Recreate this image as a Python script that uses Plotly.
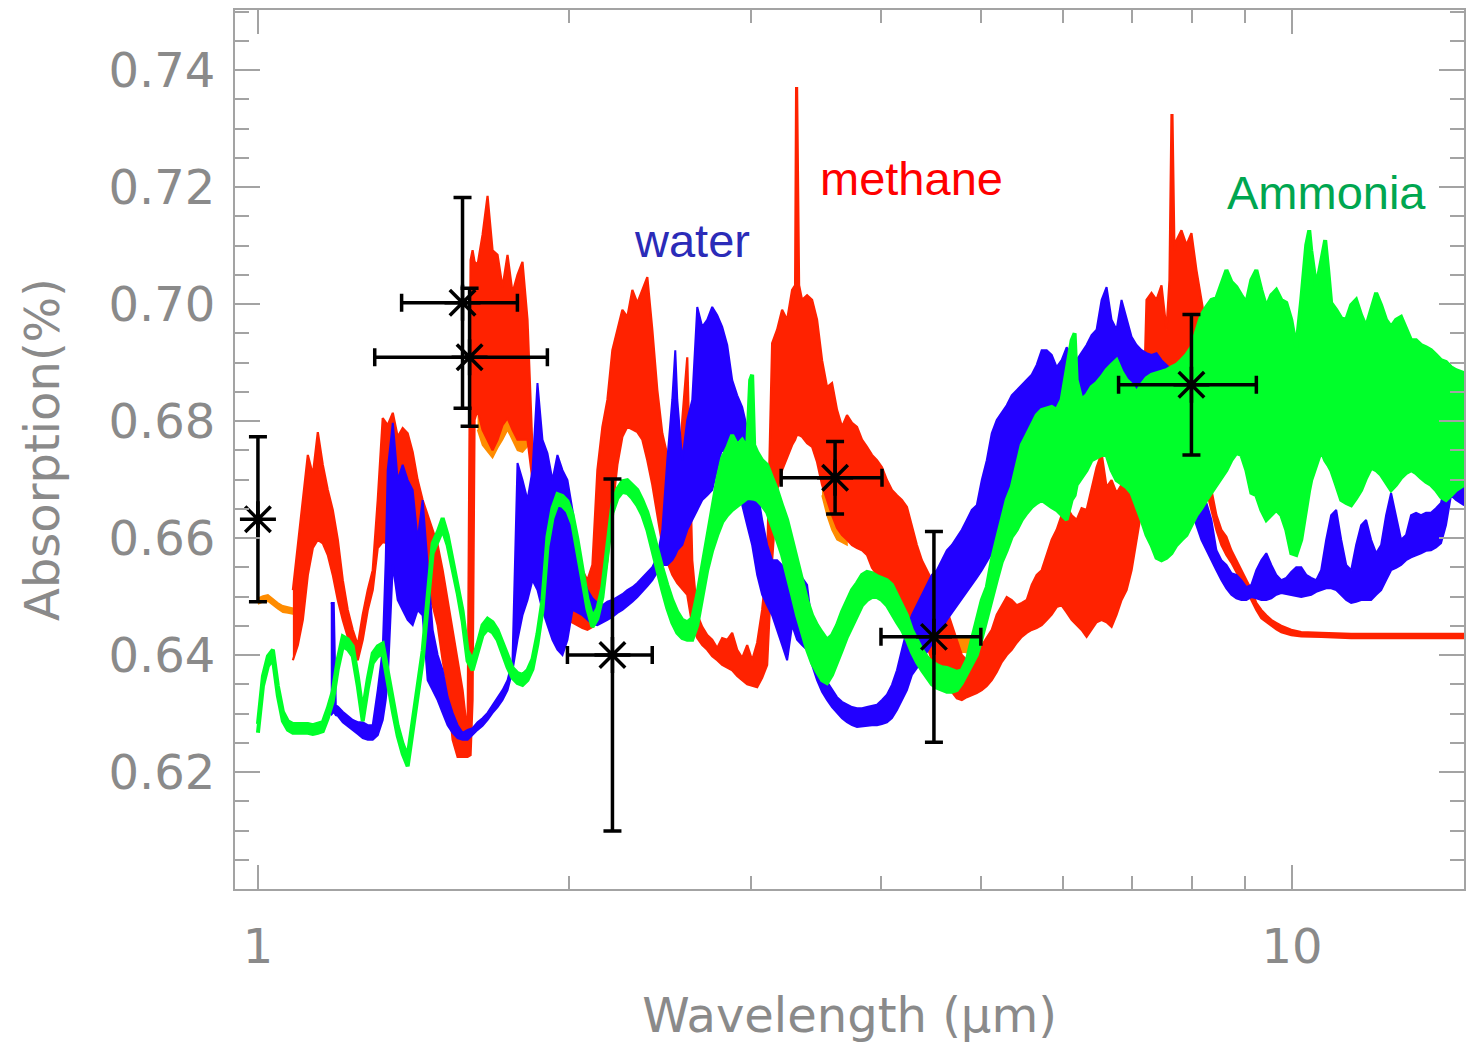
import math
import plotly.graph_objects as go

# ---------------------------------------------------------------
# Model transmission spectra: wavelength (micron) with the upper and
# lower envelope of each noisy model band (absorption, %)
# ---------------------------------------------------------------
methane_wl = [
    1.0809, 1.0929, 1.1051, 1.1175, 1.1300, 1.1426, 1.1554, 1.1683, 1.1813, 1.1946,
    1.2079, 1.2214, 1.2350, 1.2489, 1.2628, 1.2770, 1.2912, 1.3057, 1.3203, 1.3350,
    1.3502, 1.3650, 1.3803, 1.3957, 1.4113, 1.4271, 1.4430, 1.4592, 1.4755, 1.4920,
    1.5087, 1.5255, 1.5426, 1.5598, 1.5772, 1.5949, 1.6056, 1.6127, 1.6199, 1.6307,
    1.6489, 1.6674, 1.6860, 1.7049, 1.7239, 1.7432, 1.7627, 1.7824, 1.8023, 1.8225,
    1.8429, 1.8634, 1.8843, 1.9053, 1.9266, 1.9482, 1.9700, 1.9920, 2.0143, 2.0368,
    2.0595, 2.0826, 2.1059, 2.1294, 2.1532, 2.1773, 2.2016, 2.2262, 2.2512, 2.2763,
    2.3017, 2.3275, 2.3535, 2.3798, 2.4064, 2.4333, 2.4605, 2.4880, 2.5158, 2.5439,
    2.5723, 2.6011, 2.6302, 2.6596, 2.6893, 2.7194, 2.7497, 2.7805, 2.8115, 2.8431,
    2.8748, 2.9070, 2.9394, 2.9723, 3.0055, 3.0392, 3.0731, 3.1075, 3.1422, 3.1773,
    3.2128, 3.2488, 3.2851, 3.3070, 3.3144, 3.3218, 3.3366, 3.3589, 3.3965, 3.4345,
    3.4728, 3.5116, 3.5509, 3.5906, 3.6307, 3.6713, 3.7123, 3.7538, 3.7958, 3.8382,
    3.8811, 3.9245, 3.9683, 4.0128, 4.0575, 4.1028, 4.1487, 4.1950, 4.2420, 4.2893,
    4.3373, 4.3858, 4.4348, 4.4845, 4.5345, 4.5852, 4.6365, 4.6883, 4.7407, 4.7937,
    4.8472, 4.9015, 4.9562, 5.0116, 5.0676, 5.1241, 5.1815, 5.2394, 5.2980, 5.3572,
    5.4171, 5.4776, 5.5389, 5.6008, 5.6634, 5.7267, 5.7907, 5.8554, 5.9208, 5.9870,
    6.0539, 6.1215, 6.1900, 6.2591, 6.3291, 6.3998, 6.4714, 6.5437, 6.6169, 6.6908,
    6.7656, 6.8411, 6.9177, 6.9950, 7.0732, 7.1522, 7.2322, 7.3130, 7.3947, 7.4773,
    7.5609, 7.6115, 7.6454, 7.6624, 7.6963, 7.7309, 7.8173, 7.9047, 7.9930, 8.0823,
    8.1726, 8.2640, 8.3563, 8.4498, 8.5442, 8.6397, 8.7362, 8.8339, 8.9326, 9.0325,
    9.1334, 9.2355, 9.3387, 9.4431, 9.5486, 9.6554, 9.7633, 9.9827, 10.207, 10.670,
    11.407, 12.748, 14.665,
]
methane_hi = [
    .6511, .6588, .6665, .6742, .6708, .6781, .6725, .6682, .6648, .6597,
    .6528, .6477, .6443, .6417, .6469, .6511, .6545, .6665, .6805, .6793,
    .6814, .6773, .6788, .6779, .6747, .6699, .6665, .6639, .6614, .6588,
    .6545, .6494, .6443, .6397, .6340, .6263, .7075, .7092, .7072, .7067,
    .7118, .7185, .7092, .7084, .7029, .7084, .7019, .7050, .7072, .6973,
    .6750, .6691, .6665, .6639, .6631, .6639, .6605, .6602, .6588, .6562,
    .6545, .6528, .6554, .6716, .6790, .6836, .6921, .6956, .6990, .6978,
    .7024, .7002, .7024, .7046, .6956, .6853, .6779, .6742, .6682, .6639,
    .6802, .6909, .6562, .6469, .6448, .6434, .6426, .6412, .6429, .6426,
    .6438, .6409, .6395, .6417, .6391, .6421, .6477, .6562, .6933, .6956,
    .6990, .6973, .7024, .7032, .7369, .7369, .7032, .7007, .7015, .7007,
    .6973, .6904, .6858, .6865, .6819, .6790, .6810, .6797, .6790, .6768,
    .6756, .6742, .6733, .6721, .6699, .6682, .6673, .6665, .6653, .6619,
    .6588, .6562, .6545, .6528, .6516, .6506, .6477, .6451, .6426, .6400,
    .6391, .6400, .6403, .6417, .6431, .6443, .6469, .6485, .6499, .6494,
    .6485, .6489, .6494, .6520, .6537, .6545, .6571, .6597, .6614, .6639,
    .6653, .6639, .6631, .6651, .6648, .6682, .6721, .6745, .6687, .6699,
    .6677, .6691, .6699, .6716, .6665, .6682, .7007, .7019, .7007, .7032,
    .6956, .7041, .7323, .7323, .7092, .7109, .7126, .7101, .7121, .7058,
    .7007, .6956, .6682, .6639, .6614, .6602, .6579, .6562, .6545, .6528,
    .6511, .6489, .6477, .6468, .6460, .6455, .6450, .6443, .6439, .6438,
    .6436, .6436, .6436,
]
methane_lo = [
    .6391, .6417, .6460, .6537, .6583, .6597, .6591, .6571, .6537, .6494,
    .6460, .6431, .6409, .6391, .6426, .6477, .6511, .6583, .6593, .6591,
    .6591, .6588, .6586, .6579, .6559, .6528, .6516, .6503, .6485, .6451,
    .6391, .6340, .6255, .6226, .6226, .6226, .6229, .6323, .6802, .6819,
    .6785, .6768, .6750, .6768, .6793, .6805, .6785, .6768, .6768, .6768,
    .6699, .6597, .6503, .6477, .6469, .6463, .6460, .6460, .6456, .6451,
    .6446, .6443, .6448, .6463, .6506, .6562, .6648, .6725, .6773, .6790,
    .6785, .6781, .6768, .6733, .6691, .6639, .6588, .6559, .6537, .6523,
    .6514, .6503, .6451, .6429, .6417, .6409, .6398, .6391, .6383, .6378,
    .6374, .6364, .6357, .6350, .6347, .6345, .6361, .6383, .6562, .6682,
    .6716, .6737, .6759, .6768, .6773, .6776, .6776, .6773, .6762, .6756,
    .6730, .6691, .6665, .6639, .6617, .6605, .6597, .6588, .6583, .6579,
    .6571, .6549, .6537, .6525, .6514, .6506, .6489, .6477, .6463, .6451,
    .6443, .6429, .6417, .6391, .6378, .6362, .6349, .6337, .6326, .6323,
    .6328, .6332, .6335, .6340, .6347, .6357, .6371, .6388, .6400, .6409,
    .6421, .6431, .6438, .6443, .6446, .6451, .6460, .6469, .6482, .6485,
    .6473, .6460, .6451, .6443, .6431, .6443, .6456, .6460, .6456, .6448,
    .6469, .6494, .6511, .6545, .6597, .6648, .6699, .6742, .6742, .6742,
    .6733, .6733, .6733, .6733, .6730, .6725, .6716, .6716, .6716, .6716,
    .6716, .6682, .6648, .6614, .6588, .6571, .6558, .6542, .6528, .6511,
    .6494, .6477, .6463, .6456, .6450, .6444, .6439, .6434, .6432, .6431,
    .6429, .6429, .6429,
]

# second methane model, mostly hidden beneath the first one
methane_alt_wl = [
    [1.0000, 1.0112, 1.0225, 1.0339, 1.0454, 1.0571, 1.0689, 1.0809, 1.0879],
    [1.6307, 1.6489, 1.6674, 1.6860, 1.7049, 1.7239, 1.7432, 1.7627, 1.7824, 1.8023, 1.8225],
    [3.5116, 3.5509, 3.5906, 3.6307, 3.6713, 3.7123],
    [4.7092, 4.7618, 4.8150, 4.8688, 4.9234],
]
methane_alt_hi = [
    [.6497, .6501, .6503, .6496, .6489, .6484, .6482, .6480, .6479],
    [.6836, .6836, .6836, .6836, .6836, .6836, .6836, .6836, .6836, .6836, .6836],
    [.6682, .6682, .6682, .6682, .6682, .6682],
    [.6426, .6431, .6432, .6429, .6417],
]
methane_alt_lo = [
    [.6487, .6491, .6492, .6485, .6479, .6473, .6472, .6470, .6468],
    [.6785, .6759, .6747, .6737, .6754, .6768, .6785, .6768, .6750, .6747, .6757],
    [.6673, .6639, .6614, .6597, .6593, .6588],
    [.6400, .6405, .6405, .6403, .6400],
]

water_wl = [
    1.1760, 1.1839, 1.1893, 1.1946, 1.2079, 1.2214, 1.2350, 1.2489, 1.2628, 1.2770,
    1.2912, 1.3057, 1.3203, 1.3291, 1.3350, 1.3502, 1.3650, 1.3803, 1.3957, 1.4113,
    1.4271, 1.4430, 1.4592, 1.4755, 1.4920, 1.5087, 1.5255, 1.5426, 1.5598, 1.5772,
    1.5949, 1.6127, 1.6307, 1.6489, 1.6674, 1.6860, 1.7049, 1.7239, 1.7432, 1.7627,
    1.7824, 1.8023, 1.8225, 1.8429, 1.8634, 1.8843, 1.9053, 1.9266, 1.9482, 1.9700,
    1.9920, 2.0143, 2.0368, 2.0595, 2.0826, 2.1059, 2.1294, 2.1532, 2.1773, 2.2016,
    2.2262, 2.2512, 2.2763, 2.3017, 2.3275, 2.3535, 2.3798, 2.4064, 2.4333, 2.4605,
    2.4880, 2.5158, 2.5326, 2.5439, 2.5723, 2.6011, 2.6302, 2.6596, 2.6893, 2.7194,
    2.7497, 2.7805, 2.8115, 2.8431, 2.8748, 2.9070, 2.9394, 2.9723, 3.0055, 3.0392,
    3.0731, 3.1075, 3.1422, 3.1773, 3.2128, 3.2488, 3.2851, 3.3218, 3.3589, 3.3965,
    3.4345, 3.4728, 3.5116, 3.5509, 3.5906, 3.6307, 3.6713, 3.7123, 3.7538, 3.7958,
    3.8382, 3.8811, 3.9245, 3.9683, 4.0128, 4.0575, 4.1028, 4.1487, 4.1950, 4.2420,
    4.2893, 4.3373, 4.3858, 4.4348, 4.4845, 4.5345, 4.5852, 4.6365, 4.6883, 4.7407,
    4.7937, 4.8472, 4.9015, 4.9562, 5.0116, 5.0676, 5.1241, 5.1815, 5.2394, 5.2980,
    5.3572, 5.4171, 5.4776, 5.5389, 5.6008, 5.6634, 5.7267, 5.7907, 5.8554, 5.9208,
    5.9870, 6.0539, 6.1215, 6.1900, 6.2591, 6.3291, 6.3998, 6.4714, 6.5437, 6.6169,
    6.6908, 6.7656, 6.8411, 6.9177, 6.9950, 7.0732, 7.1522, 7.2322, 7.3130, 7.3947,
    7.4773, 7.5609, 7.6454, 7.7309, 7.8173, 7.9047, 7.9930, 8.0823, 8.1726, 8.2640,
    8.3563, 8.4498, 8.5442, 8.6397, 8.7362, 8.8339, 8.9326, 9.0325, 9.1334, 9.2355,
    9.3387, 9.4431, 9.5486, 9.6554, 9.7633, 9.8724, 9.9827, 10.094, 10.207, 10.321,
    10.436, 10.553, 10.670, 10.790, 10.910, 11.033, 11.156, 11.281, 11.407, 11.534,
    11.663, 11.793, 11.925, 12.059, 12.194, 12.330, 12.467, 12.607, 12.748, 12.890,
    13.035, 13.180, 13.327, 13.476, 13.626, 13.779, 13.933, 14.089, 14.246, 14.406, 14.665,
]
water_hi = [
    .6489, .6489, .6314, .6312, .6303, .6296, .6289, .6285, .6285, .6280,
    .6280, .6340, .6409, .6562, .6716, .6797, .6699, .6725, .6699, .6682,
    .6597, .6665, .6550, .6443, .6400, .6374, .6328, .6301, .6280, .6267,
    .6272, .6275, .6285, .6292, .6301, .6314, .6326, .6340, .6357, .6391,
    .6728, .6699, .6665, .6716, .6865, .6768, .6745, .6699, .6742, .6716,
    .6699, .6648, .6588, .6537, .6511, .6497, .6489, .6485, .6491, .6494,
    .6499, .6504, .6511, .6516, .6523, .6532, .6540, .6550, .6567, .6614,
    .6733, .6836, .6921, .6836, .6733, .6802, .6836, .6995, .6961, .6973,
    .6995, .6981, .6961, .6930, .6870, .6844, .6824, .6785, .6750, .6682,
    .6631, .6588, .6562, .6562, .6554, .6545, .6545, .6537, .6532, .6520,
    .6448, .6409, .6374, .6354, .6340, .6328, .6320, .6315, .6311, .6309,
    .6309, .6311, .6313, .6315, .6323, .6332, .6349, .6374, .6409, .6443,
    .6468, .6485, .6503, .6520, .6537, .6545, .6562, .6579, .6588, .6602,
    .6614, .6631, .6648, .6656, .6699, .6733, .6779, .6802, .6814, .6827,
    .6844, .6853, .6862, .6870, .6879, .6896, .6921, .6921, .6913, .6892,
    .6904, .6926, .6913, .6904, .6916, .6930, .6947, .6956, .7007, .7029,
    .6973, .6956, .7007, .6973, .6944, .6930, .6921, .6916, .6913, .6916,
    .6904, .6896, .6887, .6870, .6836, .6785, .6716, .6656, .6648, .6660,
    .6631, .6579, .6562, .6554, .6540, .6537, .6528, .6516, .6520, .6545,
    .6562, .6574, .6554, .6537, .6528, .6532, .6542, .6550, .6550, .6537,
    .6532, .6528, .6545, .6597, .6639, .6648, .6597, .6554, .6545, .6588,
    .6622, .6631, .6597, .6574, .6588, .6639, .6677, .6639, .6597, .6605,
    .6639, .6643, .6639, .6643, .6643, .6651, .6660, .6699, .6721, .6699, .6687,
]
water_lo = [
    .6297, .6303, .6297, .6296, .6285, .6279, .6272, .6265, .6258, .6255,
    .6255, .6263, .6289, .6323, .6357, .6554, .6494, .6477, .6460, .6451,
    .6477, .6468, .6357, .6340, .6323, .6301, .6280, .6267, .6258, .6255,
    .6255, .6263, .6272, .6279, .6289, .6301, .6311, .6323, .6340, .6374,
    .6426, .6468, .6494, .6528, .6511, .6477, .6451, .6426, .6409, .6400,
    .6426, .6477, .6473, .6468, .6460, .6453, .6451, .6456, .6460, .6465,
    .6472, .6477, .6484, .6491, .6499, .6508, .6518, .6528, .6542, .6554,
    .6554, .6562, .6571, .6579, .6588, .6614, .6631, .6648, .6665, .6673,
    .6682, .6716, .6754, .6733, .6716, .6691, .6656, .6622, .6588, .6537,
    .6503, .6485, .6468, .6443, .6417, .6391, .6451, .6426, .6417, .6409,
    .6383, .6357, .6337, .6323, .6311, .6301, .6292, .6285, .6280, .6277,
    .6277, .6279, .6280, .6280, .6282, .6285, .6292, .6306, .6323, .6340,
    .6366, .6378, .6391, .6405, .6417, .6432, .6446, .6460, .6473, .6485,
    .6497, .6508, .6520, .6532, .6545, .6559, .6574, .6588, .6605, .6622,
    .6639, .6656, .6673, .6685, .6699, .6706, .6711, .6716, .6725, .6730,
    .6733, .6725, .6716, .6725, .6733, .6759, .6779, .6781, .6785, .6788,
    .6793, .6805, .6819, .6810, .6802, .6788, .6776, .6759, .6742, .6733,
    .6725, .6733, .6742, .6725, .6699, .6673, .6648, .6622, .6597, .6579,
    .6562, .6545, .6528, .6514, .6503, .6497, .6494, .6494, .6499, .6497,
    .6494, .6494, .6497, .6503, .6506, .6504, .6503, .6501, .6499, .6501,
    .6503, .6508, .6511, .6514, .6514, .6511, .6503, .6494, .6489, .6491,
    .6494, .6494, .6494, .6503, .6511, .6528, .6545, .6549, .6554, .6562,
    .6567, .6571, .6574, .6578, .6579, .6584, .6591, .6622, .6673, .6665, .6656,
]

ammonia_wl = [
    1.0000, 1.0112, 1.0225, 1.0339, 1.0454, 1.0571, 1.0689, 1.0809, 1.0929, 1.1051,
    1.1175, 1.1300, 1.1426, 1.1554, 1.1683, 1.1813, 1.1946, 1.2079, 1.2214, 1.2350,
    1.2489, 1.2628, 1.2770, 1.2912, 1.3057, 1.3203, 1.3350, 1.3502, 1.3650, 1.3803,
    1.3957, 1.4113, 1.4271, 1.4430, 1.4592, 1.4755, 1.4920, 1.5087, 1.5255, 1.5426,
    1.5598, 1.5772, 1.5949, 1.6127, 1.6307, 1.6489, 1.6674, 1.6860, 1.7049, 1.7239,
    1.7432, 1.7627, 1.7824, 1.8023, 1.8225, 1.8429, 1.8634, 1.8843, 1.9053, 1.9266,
    1.9482, 1.9700, 1.9920, 2.0143, 2.0368, 2.0595, 2.0826, 2.1059, 2.1294, 2.1532,
    2.1773, 2.2016, 2.2262, 2.2512, 2.2763, 2.3017, 2.3275, 2.3535, 2.3798, 2.4064,
    2.4333, 2.4605, 2.4880, 2.5158, 2.5439, 2.5723, 2.6011, 2.6302, 2.6596, 2.6893,
    2.7194, 2.7497, 2.7805, 2.8115, 2.8431, 2.8748, 2.9070, 2.9394, 2.9723, 2.9922,
    3.0055, 3.0189, 3.0392, 3.0731, 3.1075, 3.1422, 3.1773, 3.2128, 3.2488, 3.2851,
    3.3218, 3.3589, 3.3965, 3.4345, 3.4728, 3.5116, 3.5509, 3.5906, 3.6307, 3.6713,
    3.7123, 3.7538, 3.7958, 3.8382, 3.8811, 3.9245, 3.9683, 4.0128, 4.0575, 4.1028,
    4.1487, 4.1950, 4.2420, 4.2893, 4.3373, 4.3858, 4.4348, 4.4845, 4.5345, 4.5852,
    4.6365, 4.6883, 4.7407, 4.7937, 4.8472, 4.9015, 4.9562, 5.0116, 5.0676, 5.1241,
    5.1815, 5.2394, 5.2980, 5.3572, 5.4171, 5.4776, 5.5389, 5.6008, 5.6634, 5.7267,
    5.7907, 5.8554, 5.9208, 5.9870, 6.0539, 6.1215, 6.1625, 6.1900, 6.2591, 6.3291,
    6.3998, 6.4714, 6.5437, 6.6169, 6.6908, 6.7656, 6.8411, 6.9177, 6.9950, 7.0732,
    7.1522, 7.2322, 7.3130, 7.3947, 7.4773, 7.5609, 7.6454, 7.7309, 7.8173, 7.9047,
    7.9930, 8.0823, 8.1726, 8.2640, 8.3563, 8.4498, 8.5442, 8.6397, 8.7362, 8.8339,
    8.9326, 9.0325, 9.1334, 9.2355, 9.3387, 9.4431, 9.5486, 9.6554, 9.7633, 9.8724,
    9.9827, 10.094, 10.207, 10.321, 10.390, 10.436, 10.553, 10.670, 10.766, 10.838,
    10.910, 11.033, 11.156, 11.281, 11.407, 11.534, 11.663, 11.793, 11.925, 12.059,
    12.194, 12.330, 12.467, 12.607, 12.748, 12.890, 13.035, 13.180, 13.327, 13.476,
    13.626, 13.779, 13.933, 14.089, 14.246, 14.406, 14.665,
]
ammonia_hi = [
    .6282, .6364, .6398, .6409, .6347, .6303, .6287, .6282, .6282, .6282,
    .6282, .6280, .6282, .6285, .6309, .6338, .6393, .6432, .6427, .6415,
    .6364, .6304, .6359, .6403, .6415, .6420, .6373, .6321, .6279, .6248,
    .6227, .6287, .6347, .6407, .6501, .6591, .6610, .6634, .6605, .6561,
    .6523, .6475, .6407, .6391, .6419, .6451, .6462, .6456, .6443, .6421,
    .6397, .6378, .6369, .6366, .6374, .6393, .6436, .6494, .6602, .6651,
    .6675, .6672, .6663, .6641, .6598, .6544, .6496, .6465, .6479, .6516,
    .6590, .6658, .6684, .6697, .6699, .6691, .6682, .6665, .6644, .6614,
    .6579, .6549, .6520, .6494, .6474, .6460, .6456, .6463, .6503, .6554,
    .6605, .6656, .6699, .6737, .6754, .6776, .6759, .6768, .6754, .6870,
    .6879, .6759, .6747, .6733, .6725, .6703, .6682, .6656, .6631, .6597,
    .6562, .6528, .6494, .6468, .6451, .6438, .6426, .6434, .6451, .6474,
    .6494, .6511, .6523, .6537, .6542, .6540, .6535, .6532, .6528, .6520,
    .6503, .6485, .6468, .6443, .6426, .6409, .6397, .6388, .6383, .6379,
    .6378, .6374, .6371, .6374, .6391, .6426, .6460, .6494, .6516, .6562,
    .6597, .6631, .6665, .6687, .6725, .6759, .6776, .6793, .6810, .6819,
    .6822, .6824, .6819, .6836, .6887, .6938, .6950, .6870, .6836, .6844,
    .6858, .6865, .6875, .6887, .6896, .6904, .6884, .6870, .6862, .6848,
    .6862, .6873, .6879, .6882, .6884, .6887, .6892, .6896, .6904, .6913,
    .6926, .6956, .6981, .6995, .7007, .7010, .7032, .7058, .7038, .7029,
    .7015, .7002, .7041, .7058, .7024, .6995, .7015, .7024, .7007, .7002,
    .6973, .6926, .7007, .7101, .7126, .7092, .7029, .7075, .7109, .7058,
    .7002, .6990, .6976, .6973, .6998, .7007, .6981, .6961, .6990, .7019,
    .6998, .6973, .6961, .6973, .6978, .6956, .6938, .6938, .6930, .6926,
    .6921, .6913, .6904, .6901, .6892, .6887, .6882,
]
ammonia_lo = [
    .6267, .6347, .6381, .6393, .6330, .6287, .6272, .6267, .6267, .6267,
    .6267, .6265, .6267, .6270, .6292, .6321, .6376, .6415, .6410, .6398,
    .6347, .6287, .6342, .6386, .6398, .6403, .6355, .6304, .6262, .6231,
    .6210, .6270, .6330, .6390, .6484, .6574, .6593, .6614, .6588, .6544,
    .6506, .6458, .6390, .6374, .6402, .6434, .6444, .6439, .6426, .6403,
    .6379, .6361, .6352, .6349, .6357, .6376, .6419, .6477, .6585, .6634,
    .6658, .6655, .6646, .6624, .6581, .6526, .6479, .6448, .6462, .6499,
    .6574, .6643, .6668, .6679, .6677, .6668, .6656, .6639, .6614, .6579,
    .6545, .6511, .6480, .6455, .6438, .6429, .6426, .6426, .6451, .6497,
    .6545, .6579, .6605, .6627, .6639, .6648, .6656, .6662, .6668, .6668,
    .6668, .6667, .6665, .6656, .6644, .6622, .6597, .6571, .6537, .6503,
    .6468, .6438, .6409, .6386, .6371, .6357, .6352, .6366, .6388, .6409,
    .6431, .6451, .6468, .6485, .6494, .6499, .6499, .6494, .6485, .6472,
    .6456, .6443, .6426, .6405, .6388, .6374, .6361, .6350, .6344, .6340,
    .6337, .6337, .6340, .6352, .6366, .6383, .6400, .6429, .6460, .6494,
    .6528, .6559, .6579, .6602, .6614, .6631, .6643, .6653, .6660, .6665,
    .6660, .6653, .6648, .6639, .6631, .6665, .6673, .6691, .6703, .6716,
    .6733, .6737, .6742, .6742, .6716, .6699, .6694, .6687, .6677, .6656,
    .6631, .6605, .6588, .6566, .6562, .6566, .6574, .6588, .6597, .6605,
    .6622, .6639, .6651, .6665, .6677, .6691, .6703, .6716, .6733, .6745,
    .6742, .6716, .6677, .6673, .6648, .6631, .6639, .6648, .6639, .6614,
    .6574, .6571, .6597, .6648, .6682, .6699, .6725, .6750, .6733, .6725,
    .6716, .6691, .6665, .6660, .6656, .6668, .6682, .6703, .6720, .6716,
    .6708, .6694, .6682, .6691, .6703, .6711, .6716, .6711, .6703, .6696,
    .6691, .6682, .6670, .6665, .6673, .6682, .6691,
]

# Measured absorption with 1-sigma errors and wavelength bin edges
obs_wl = [1.000, 1.577, 1.602, 2.202, 3.615, 4.505, 7.993]
obs_val = [0.6632, 0.7002, 0.6909, 0.6400, 0.6703, 0.6431, 0.6862]
obs_err = [0.0141, 0.0180, 0.0118, 0.0301, 0.0062, 0.0180, 0.0120]
obs_wl_lo = [1.000, 1.377, 1.297, 1.992, 3.206, 4.004, 6.796]
obs_wl_hi = [1.000, 1.782, 1.905, 2.406, 4.013, 5.001, 9.236]

# Species labels: (text, wavelength, absorption, colour)
label_text = ["water", "methane", "Ammonia"]
label_wl = [2.63, 4.29, 10.79]
label_val = [0.7109, 0.7215, 0.7191]
label_color = ["#2b2bb8", "#ff0000", "#00a650"]

y_ticks = [0.62, 0.64, 0.66, 0.68, 0.70, 0.72, 0.74]
x_ticks = [1, 10]
x_minor = [2, 3, 4, 5, 6, 7, 8, 9]

ORANGE = "#ff8c00"
RED = "#ff2200"
BLUE = "#2200ff"
GREEN = "#00ff2a"
AXIS = "#a3a3a3"
TEXT = "#8a8a8a"


def band(wl, hi, lo, color, edge=1.6):
    assert len(wl) == len(hi) == len(lo)
    return go.Scatter(
        x=list(wl) + list(wl[::-1]),
        y=list(hi) + list(lo[::-1]),
        mode="lines",
        fill="toself",
        fillcolor=color,
        line=dict(color=color, width=edge),
        hoverinfo="skip",
        showlegend=False,
    )


fig = go.Figure()
for wl, hi, lo in zip(methane_alt_wl, methane_alt_hi, methane_alt_lo):
    fig.add_trace(band(wl, hi, lo, ORANGE))
fig.add_trace(band(methane_wl, methane_hi, methane_lo, RED, edge=2.2))
fig.add_trace(band(water_wl, water_hi, water_lo, BLUE, edge=2.0))
fig.add_trace(band(ammonia_wl, ammonia_hi, ammonia_lo, GREEN, edge=4.0))

fig.add_trace(go.Scatter(
    x=obs_wl, y=obs_val, mode="markers",
    marker=dict(symbol="asterisk-open", size=30, color="black",
                line=dict(color="black", width=3.5)),
    error_y=dict(type="data", array=obs_err, color="black", thickness=3.5, width=9),
    error_x=dict(type="data", symmetric=False,
                 array=[h - w for h, w in zip(obs_wl_hi, obs_wl)],
                 arrayminus=[w - l for w, l in zip(obs_wl, obs_wl_lo)],
                 color="black", thickness=3.5, width=9),
    hoverinfo="skip", showlegend=False,
))

for txt, wl, val, col in zip(label_text, label_wl, label_val, label_color):
    fig.add_annotation(
        x=math.log10(wl), y=val, xref="x", yref="y", text=txt, showarrow=False,
        font=dict(family="Liberation Sans, Arial, sans-serif", size=47, color=col),
        xanchor="center", yanchor="middle",
    )

axis_font = dict(family="DejaVu Sans, sans-serif", size=48, color=TEXT)

fig.update_xaxes(
    type="log",
    range=[math.log10(0.9502), math.log10(14.665)],
    showline=True, linecolor=AXIS, linewidth=2, mirror="ticks",
    ticks="inside", ticklen=24, tickwidth=2, tickcolor=AXIS,
    tickvals=x_ticks, ticktext=[str(v) for v in x_ticks],
    tickfont=axis_font, ticklabelstandoff=14,
    minor=dict(tickvals=x_minor, ticks="inside", ticklen=13, tickwidth=2, tickcolor=AXIS),
    showgrid=False, zeroline=False,
    title=dict(text="Wavelength (\u03bcm)", font=axis_font, standoff=26),
)
fig.update_yaxes(
    range=[0.600, 0.75026],
    showline=True, linecolor=AXIS, linewidth=2, mirror="ticks",
    ticks="inside", ticklen=25, tickwidth=2, tickcolor=AXIS,
    tickvals=y_ticks, ticktext=["%.2f" % v for v in y_ticks],
    tickfont=axis_font, ticklabelstandoff=8,
    minor=dict(dtick=0.005, ticks="inside", ticklen=14, tickwidth=2, tickcolor=AXIS),
    showgrid=False, zeroline=False,
    title=dict(text="Absorption(%)", font=axis_font, standoff=34),
)
fig.update_layout(
    width=1466, height=1044,
    margin=dict(l=235, r=0, t=10, b=155),
    plot_bgcolor="white", paper_bgcolor="white",
    showlegend=False,
)

fig.write_html("out.html")
